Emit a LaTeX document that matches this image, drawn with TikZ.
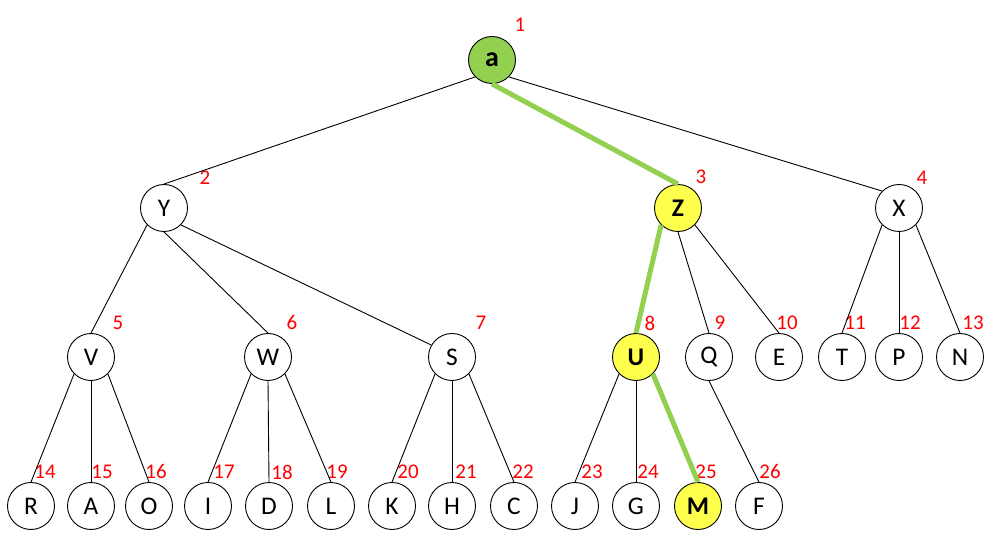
\documentclass[tikz,border=0pt]{standalone}
\usepackage{fontspec}
\setmainfont{Carlito}
\definecolor{hlgreen}{RGB}{146,208,80}
\definecolor{hlyellow}{RGB}{255,255,77}
\begin{document}
\begin{tikzpicture}[x=1bp,y=-1bp,
  vtx/.style={circle,draw=black,line width=0.9bp,minimum size=47bp,inner sep=0pt,fill=white,font=\fontsize{25.5}{25.5}\selectfont},
  hl/.style={fill=hlyellow,font=\fontsize{25.5}{25.5}\selectfont\bfseries},
  num/.style={text=red,font=\fontsize{21}{21}\selectfont,inner sep=0pt},
  edg/.style={line width=0.9bp,black},
  greenpath/.style={line width=5bp,hlgreen}
]
\useasboundingbox (0,0) rectangle (995,547);
% nodes
\node[vtx,fill=hlgreen,font=\fontsize{28}{28}\selectfont\bfseries] (a) at (492,60) {a};
\node[vtx] (Y) at (164,208) {Y};
\node[vtx,hl] (Z) at (678,208) {Z};
\node[vtx] (X) at (899,208) {X};
\node[vtx] (V) at (91,357) {V};
\node[vtx] (W) at (268,357) {W};
\node[vtx] (S) at (452,357) {S};
\node[vtx,hl] (U) at (636,357) {U};
\node[vtx] (Q) at (709,357) {Q};
\node[vtx] (E) at (779,357) {E};
\node[vtx] (T) at (842,357) {T};
\node[vtx] (P) at (899,357) {P};
\node[vtx] (N) at (960,357) {N};
\node[vtx] (R) at (31,506) {R};
\node[vtx] (A) at (91,506) {A};
\node[vtx] (O) at (149,506) {O};
\node[vtx] (I) at (208,506) {I};
\node[vtx] (D) at (269,506) {D};
\node[vtx] (L) at (331,506) {L};
\node[vtx] (K) at (392,506) {K};
\node[vtx] (H) at (452,506) {H};
\node[vtx] (C) at (514,506) {C};
\node[vtx] (J) at (575,506) {J};
\node[vtx] (G) at (636,506) {G};
\node[vtx,hl] (M) at (698,506) {M};
\node[vtx] (F) at (759,506) {F};
% labels
\node[num] (l1) at (520,25) {1};
\node[num] (l2) at (205,178) {2};
\node[num] (l3) at (701,177) {3};
\node[num] (l4) at (922,178) {4};
\node[num] (l5) at (118,323) {5};
\node[num] (l6) at (292,323) {6};
\node[num] (l7) at (481,323) {7};
\node[num] (l8) at (650,323) {8};
\node[num] (l9) at (720,323) {9};
\node[num] (l10) at (787,323) {10};
\node[num] (l11) at (855,323) {11};
\node[num] (l12) at (910,323) {12};
\node[num] (l13) at (973,323) {13};
\node[num] (l14) at (45,472) {14};
\node[num] (l15) at (102,472) {15};
\node[num] (l16) at (156,472) {16};
\node[num] (l17) at (224,472) {17};
\node[num] (l18) at (282,472) {18};
\node[num] (l19) at (337,472) {19};
\node[num] (l20) at (408,472) {20};
\node[num] (l21) at (466,472) {21};
\node[num] (l22) at (523,472) {22};
\node[num] (l23) at (592,472) {23};
\node[num] (l24) at (648,472) {24};
\node[num] (l25) at (706,472) {25};
\node[num] (l26) at (770,472) {26};
% edges
\draw[edg] (a.south west) -- (Y.north);
\draw[greenpath] (a.south) -- (Z.north);
\draw[edg] (a.south east) -- (X.north west);
\draw[edg] (Y.south west) -- (V.north);
\draw[edg] (Y.south) -- (W.north);
\draw[edg] (Y.south east) -- (S.150);
\draw[greenpath] (Z.south west) -- (U.north);
\draw[edg] (Z.south) -- (Q.north);
\draw[edg] (Z.south east) -- (E.north);
\draw[edg] (X.south west) -- (T.north);
\draw[edg] (X.south) -- (P.north);
\draw[edg] (X.south east) -- (N.north);
\draw[edg] (V.south west) -- (R.north);
\draw[edg] (V.south) -- (A.north);
\draw[edg] (V.south east) -- (O.north);
\draw[edg] (W.south west) -- (I.north);
\draw[edg] (W.south) -- (D.north);
\draw[edg] (W.south east) -- (L.north);
\draw[edg] (S.south west) -- (K.north);
\draw[edg] (S.south) -- (H.north);
\draw[edg] (S.south east) -- (C.north);
\draw[edg] (U.south west) -- (J.north);
\draw[edg] (U.south) -- (G.north);
\draw[greenpath] (U.south east) -- (M.north);
\draw[edg] (Q.south) -- (F.north);
\end{tikzpicture}
\end{document}
